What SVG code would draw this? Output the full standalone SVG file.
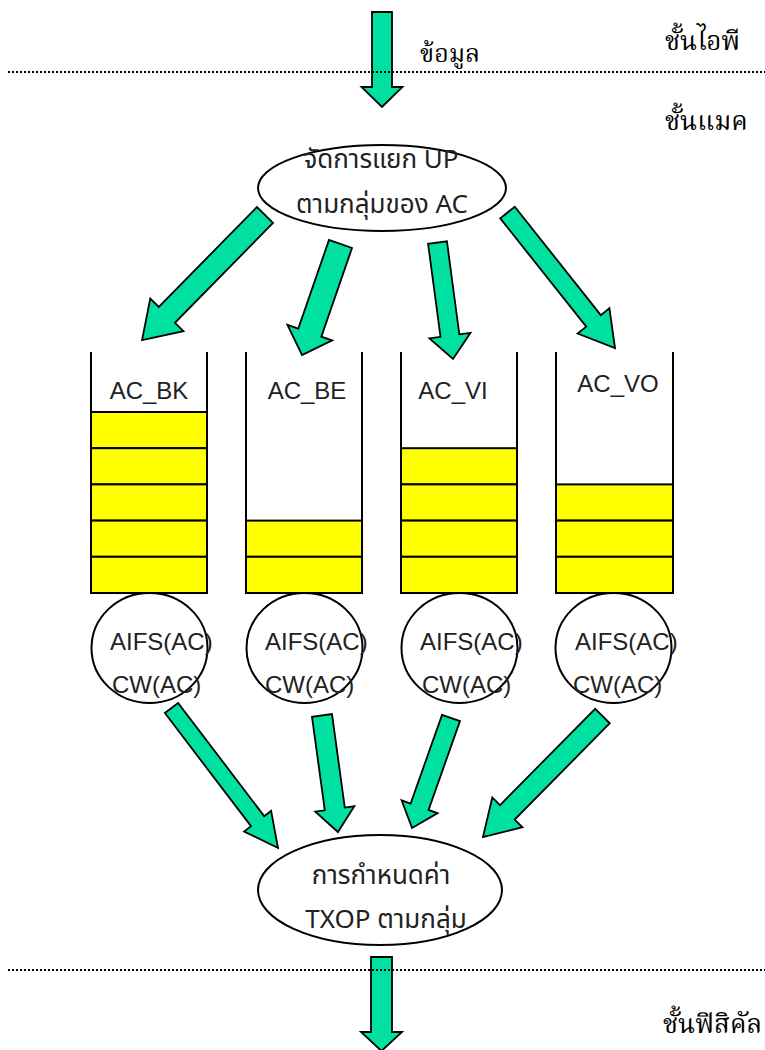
<svg xmlns="http://www.w3.org/2000/svg" width="765" height="1050" viewBox="0 0 765 1050">
<style>
.arr{fill:#00E0A0;stroke:#000;stroke-width:1.8;stroke-linejoin:miter}
.node{fill:#fff;stroke:#000;stroke-width:2}
.ring{fill:none;stroke:#000;stroke-width:2}
.cell{fill:#FFFF00;stroke:#000;stroke-width:2}
.wall{fill:none;stroke:#000;stroke-width:2}
.dot{stroke:#000;stroke-width:2;stroke-dasharray:2 2}
.sans{font-family:"Liberation Sans","Noto Sans Thai","Noto Sans",sans-serif;font-size:24px;fill:#222}
.thai{font-family:"Noto Sans Thai","Liberation Sans","Noto Sans",sans-serif;font-size:26px;fill:#222}
.ser{font-family:"Noto Serif Thai","Liberation Serif","DejaVu Serif",serif;font-size:26px;fill:#000}
</style>
<rect width="765" height="1050" fill="#fff"/>
<g id="connectors">
<polygon class="arr" points="372,12 392,12 392,87 402.5,87 382,107 361.5,87 372,87"/>
<polygon class="arr" transform="translate(265,215) rotate(134.5)" points="0,-11.3 140,-11.3 140,-23.3 175.4,0 140,23.3 140,11.3 0,11.3"/>
<polygon class="arr" transform="translate(340.5,244) rotate(109.1)" points="0,-12.2 93.8,-12.2 93.8,-23.7 117.5,0 93.8,23.7 93.8,12.2 0,12.2"/>
<polygon class="arr" transform="translate(437.5,242.5) rotate(82.4)" points="0,-9.5 93.9,-9.5 93.9,-20.7 117.5,0 93.9,20.7 93.9,9.5 0,9.5"/>
<polygon class="arr" transform="translate(507.5,212.5) rotate(51.57)" points="0,-9.3 138.4,-9.3 138.4,-20.3 173,0 138.4,20.3 138.4,9.3 0,9.3"/>
<polygon class="arr" transform="translate(171.5,708) rotate(52.74)" points="0,-8.3 142.2,-8.3 142.2,-17 175.9,0 142.2,17 142.2,8.3 0,8.3"/>
<polygon class="arr" transform="translate(322,715.5) rotate(82.2)" points="0,-10.1 94.3,-10.1 94.3,-19.7 117.6,0 94.3,19.7 94.3,10.1 0,10.1"/>
<polygon class="arr" transform="translate(451,718) rotate(109.5)" points="0,-9.5 94.1,-9.5 94.1,-19.1 116.7,0 94.1,19.1 94.1,9.5 0,9.5"/>
<polygon class="arr" transform="translate(602.5,716) rotate(134.64)" points="0,-10.3 135.4,-10.3 135.4,-21.2 170.1,0 135.4,21.2 135.4,10.3 0,10.3"/>
<polygon class="arr" points="371,957 392,957 392,1032 402,1032 381.5,1051 361,1032 371,1032"/>
</g>
<g id="layers">
<line class="dot" x1="8" y1="72" x2="765" y2="72"/>
<line class="dot" x1="8" y1="970" x2="765" y2="970"/>
<text class="ser" x="420" y="62" style="font-size:25px">ข้อมูล</text>
<text class="ser" x="665" y="50">ชั้นไอพี</text>
<text class="ser" x="665" y="130">ชั้นแมค</text>
<text class="ser" x="663" y="1033">ชั้นฟิสิคัล</text>
</g>
<g id="classifier">
<ellipse class="node" cx="382" cy="188" rx="124" ry="43"/>
<text class="thai" x="381" y="168" text-anchor="middle">จัดการแยก UP</text>
<text class="thai" x="382" y="213" text-anchor="middle">ตามกลุ่มของ AC</text>
</g>
<g id="q-bk">
<rect class="cell" x="91" y="412" width="116" height="36.2"/>
<rect class="cell" x="91" y="448.2" width="116" height="36.2"/>
<rect class="cell" x="91" y="484.4" width="116" height="36.2"/>
<rect class="cell" x="91" y="520.6" width="116" height="36.2"/>
<rect class="cell" x="91" y="556.8" width="116" height="36.2"/>
<path class="wall" d="M91,352 V593 H207 V352"/>
<text class="sans" x="149" y="399" text-anchor="middle">AC_BK</text>
</g>
<g id="q-be">
<rect class="cell" x="246" y="520.6" width="116" height="36.2"/>
<rect class="cell" x="246" y="556.8" width="116" height="36.2"/>
<path class="wall" d="M246,352 V593 H362 V352"/>
<text class="sans" x="307" y="399" text-anchor="middle">AC_BE</text>
</g>
<g id="q-vi">
<rect class="cell" x="401" y="448.2" width="116" height="36.2"/>
<rect class="cell" x="401" y="484.4" width="116" height="36.2"/>
<rect class="cell" x="401" y="520.6" width="116" height="36.2"/>
<rect class="cell" x="401" y="556.8" width="116" height="36.2"/>
<path class="wall" d="M401,352 V593 H517 V352"/>
<text class="sans" x="453" y="399" text-anchor="middle">AC_VI</text>
</g>
<g id="q-vo">
<rect class="cell" x="556" y="484.4" width="117" height="36.2"/>
<rect class="cell" x="556" y="520.6" width="117" height="36.2"/>
<rect class="cell" x="556" y="556.8" width="117" height="36.2"/>
<path class="wall" d="M556,352 V593 H673 V352"/>
<text class="sans" x="618" y="392" text-anchor="middle">AC_VO</text>
</g>
<g id="c-bk">
<ellipse class="ring" cx="149.5" cy="648" rx="58" ry="55"/>
<text class="sans" x="110" y="650">AIFS(AC)</text>
<text class="sans" x="112" y="693">CW(AC)</text>
</g>
<g id="c-be">
<ellipse class="ring" cx="304.5" cy="648" rx="58" ry="55"/>
<text class="sans" x="265" y="650">AIFS(AC)</text>
<text class="sans" x="265" y="693">CW(AC)</text>
</g>
<g id="c-vi">
<ellipse class="ring" cx="459.5" cy="648" rx="58" ry="55"/>
<text class="sans" x="420" y="650">AIFS(AC)</text>
<text class="sans" x="422" y="693">CW(AC)</text>
</g>
<g id="c-vo">
<ellipse class="ring" cx="613.5" cy="648" rx="58" ry="55"/>
<text class="sans" x="575" y="650">AIFS(AC)</text>
<text class="sans" x="573" y="693">CW(AC)</text>
</g>
<g id="scheduler">
<ellipse class="node" cx="380" cy="890" rx="122" ry="55"/>
<text class="thai" x="381" y="884" text-anchor="middle">การกำหนดค่า</text>
<text class="thai" x="386" y="928" text-anchor="middle">TXOP ตามกลุ่ม</text>
</g>
</svg>
